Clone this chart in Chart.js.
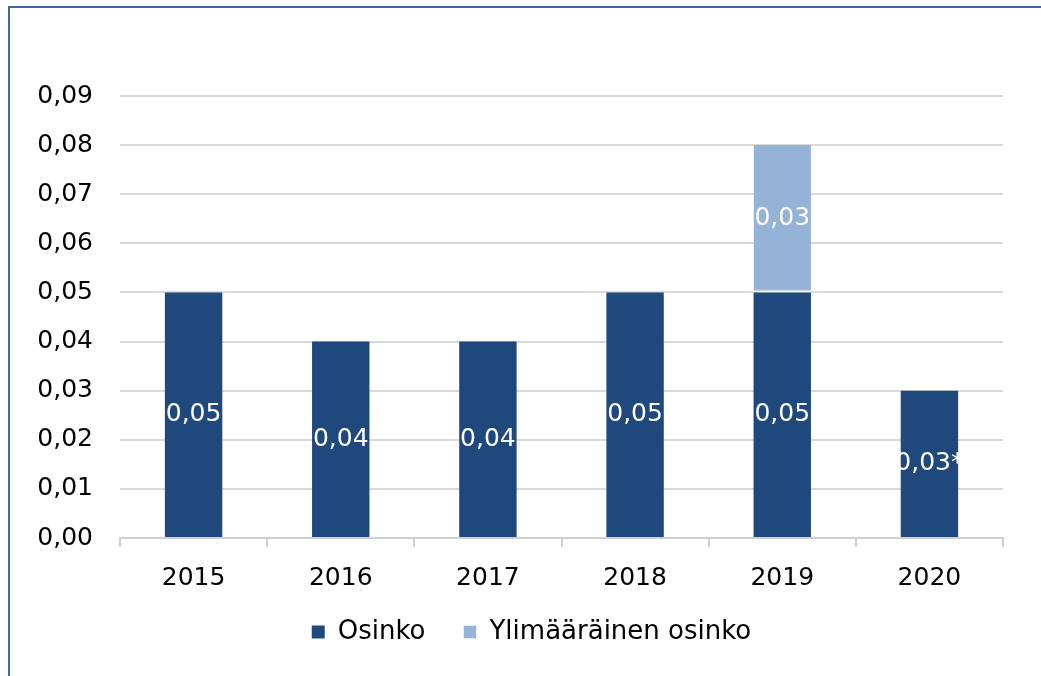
<!DOCTYPE html>
<html>
<head>
<meta charset="utf-8">
<script src="https://cdn.jsdelivr.net/npm/chart.js@4"></script>
<style>
  html, body { margin: 0; padding: 0; background: #fff; overflow: hidden; }
  #frame { position: absolute; left: 8px; top: 6px; width: 1200px; height: 800px; border: 2px solid #44679a; }
  #chart { position: absolute; left: 0; top: 0; }
</style>
</head>
<body>
<div id="frame"></div>
<canvas id="chart" width="1041" height="676"></canvas>
<script>
// data
const years = ['2015', '2016', '2017', '2018', '2019', '2020'];
const osinko = [0.05, 0.04, 0.04, 0.05, 0.05, 0.03];
const ylimaarainen = [null, null, null, null, 0.03, null];
const osinkoNotes = ['', '', '', '', '', '*'];
const yTicks = [0, 0.01, 0.02, 0.03, 0.04, 0.05, 0.06, 0.07, 0.08, 0.09];

const FONT = "'DejaVu Sans', sans-serif";
const fmt = v => v.toFixed(2).replace('.', ',');

// white value labels in the middle of each bar
const barLabels = {
    id: 'barLabels',
    afterDatasetsDraw(chart) {
        const ctx = chart.ctx;
        ctx.save();
        ctx.fillStyle = '#ffffff';
        ctx.font = '25px ' + FONT;
        ctx.textAlign = 'center';
        ctx.textBaseline = 'middle';
        chart.data.datasets.forEach((ds, i) => {
            const meta = chart.getDatasetMeta(i);
            meta.data.forEach((bar, j) => {
                const v = ds.data[j];
                if (v == null) return;
                const note = ds.notes ? ds.notes[j] : '';
                ctx.fillText(fmt(v) + note, bar.x, (bar.y + bar.base) / 2);
            });
        });
        ctx.restore();
    }
};

// legend sits a bit closer to the axis labels than its padding allows
const legendShift = {
    id: 'legendShift',
    afterLayout(chart) {
        const lg = chart.legend;
        lg.top -= 21;
        lg.bottom -= 21;
        lg.left += 20;
        lg.right += 20;
    }
};

new Chart(document.getElementById('chart'), {
    type: 'bar',
    data: {
        labels: years,
        datasets: [{
            label: 'Osinko',
            data: osinko,
            notes: osinkoNotes,
            backgroundColor: '#1f497d'
        }, {
            label: 'Ylimääräinen osinko',
            data: ylimaarainen,
            backgroundColor: '#95b3d7',
            borderColor: '#ffffff',
            borderWidth: { top: 0, left: 0, right: 0, bottom: 2 },
            borderSkipped: false
        }]
    },
    options: {
        responsive: false,
        animation: false,
        datasets: {
            bar: { categoryPercentage: 1, barPercentage: 0.39 }
        },
        layout: {
            padding: { left: 20, right: 38, top: 96, bottom: 0 }
        },
        plugins: {
            legend: {
                position: 'bottom',
                labels: {
                    font: { family: FONT, size: 26 },
                    color: '#000',
                    boxWidth: 13,
                    boxHeight: 13,
                    padding: 38
                }
            },
            tooltip: { enabled: false }
        },
        scales: {
            x: {
                stacked: true,
                grid: {
                    drawOnChartArea: false,
                    drawTicks: true,
                    tickLength: 9,
                    color: '#d0d0d0',
                    lineWidth: 2
                },
                border: { color: '#d0d0d0', width: 2 },
                ticks: {
                    font: { family: FONT, size: 25 },
                    color: '#000',
                    padding: 16
                },
                afterFit(scale) { scale.height = 64; }
            },
            y: {
                stacked: true,
                min: 0,
                max: 0.09,
                afterBuildTicks(scale) { scale.ticks = yTicks.map(v => ({ value: v })); },
                grid: { color: '#d9d9d9', lineWidth: 2, drawTicks: false },
                border: { display: false },
                ticks: {
                    font: { family: FONT, size: 25 },
                    color: '#000',
                    padding: 27,
                    callback: v => fmt(v)
                },
                afterFit(scale) { scale.width = 100; }
            }
        }
    },
    plugins: [barLabels, legendShift]
});
</script>
</body>
</html>
